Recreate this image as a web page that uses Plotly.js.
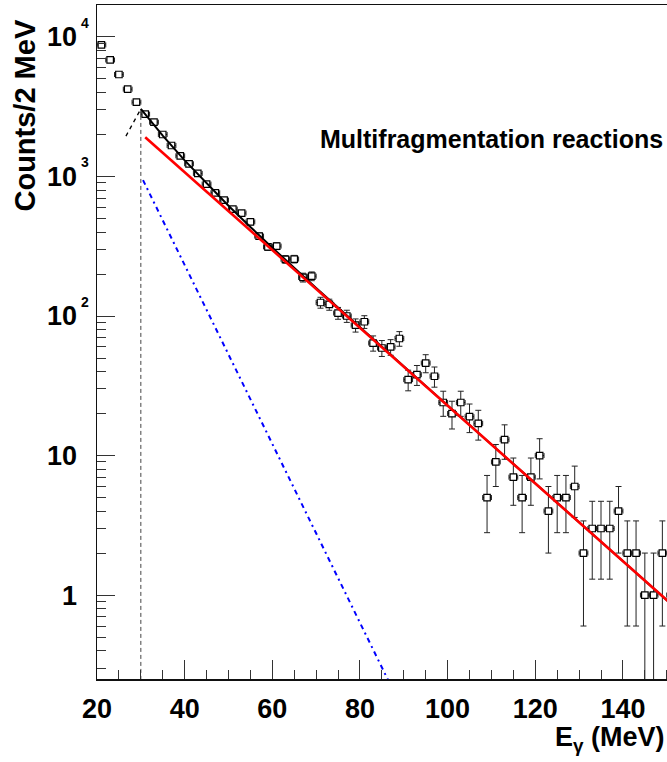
<!DOCTYPE html>
<html>
<head>
<meta charset="utf-8">
<script src="https://cdn.plot.ly/plotly-3.0.1.min.js"></script>
<style>
html, body { margin: 0; padding: 0; overflow: hidden; background: #fff; }
#chart { width: 680px; height: 762px; }
</style>
</head>
<body>
<div id="chart"></div>
<script>
// Photon energy bin centres (MeV), 2 MeV bins
const energy = [21,23,25,27,29,31,33,35,37,39,41,43,45,47,49,51,53,55,57,59,
  61,63,65,67,69,71,73,75,77,79,81,83,85,87,89,91,93,95,97,99,
  101,103,105,107,109,111,113,115,117,119,121,123,125,127,129,131,133,135,137,139,
  141,143,145,147,149,151];
// Counts per 2 MeV
const counts = [8770,6840,5380,4225,3407,2797,2450,2000,1668,1406,1233,1052,882,764,677,584,547,473,374,313,
  317,255,256,189,193,125,121,105,100,86,91,64,59,60,69,35,38,46,37,24,
  20,24,19,17,5,9,13,7,5,7,10,4,5,5,6,2,3,3,3,4,
  2,2,1,1,2,1];
// Statistical errors on counts
const countErr = [93.6,82.7,73.3,65,58.4,52.9,49.5,44.7,40.8,37.5,35.1,32.4,29.7,27.6,26,24.2,23.4,21.7,19.3,17.7,
  17.8,16,16,13.7,13.9,11.2,11,10.2,10,9.3,9.5,8,7.7,7.7,8.3,5.9,6.2,6.8,6.1,4.9,
  4.5,4.9,4.4,4.1,2.2,3,3.6,2.6,2.2,2.6,3.2,2,2.2,2.2,2.4,1.4,1.7,1.7,1.7,2,
  1.4,1.4,1,1,1.4,1];
const binHalfWidth = 1;

// Total fit (black)
const totalFitE = [30, 35, 40, 45, 50, 55, 60, 70, 80, 100, 152];
const totalFitY = [3050, 1963, 1304, 889, 617, 435, 309, 159, 82.9, 22.8, 0.81];
// Total fit extrapolated below the fit range (dashed)
const extrapE = [26.6, 30];
const extrapY = [1945, 3050];
// Hard exponential component (red)
const hardE = [31, 152];
const hardY = [1911, 0.81];
// Soft exponential component (blue)
const softE = [30.5, 90];
const softY = [942, 0.145];
// Lower limit of the fit range
const cutE = [30, 30];
const cutY = [3050, 0.1];

// Axis tick labels
const yTickVals = [1, 10, 100, 1000, 10000];
const yTickText = ['1', '10', '10', '10', '10'];
const yExponents = ['2', '3', '4'];
const yExponentDecades = [2, 3, 4];

const yMinor = [];
for (let d = -1; d <= 3; d++) {
  for (let m = 2; m <= 9; m++) yMinor.push(m * Math.pow(10, d));
}

const FONT = 'Liberation Sans, Arial, Helvetica, sans-serif';

const traces = [
  {
    x: energy, y: counts, type: 'scatter', mode: 'markers',
    marker: { symbol: 'square', size: 6.5, color: '#ffffff', line: { color: '#000', width: 1.2 } },
    error_y: { type: 'data', array: countErr, visible: true, color: '#222', thickness: 1, width: 3 },
    error_x: { type: 'constant', value: binHalfWidth, visible: true, color: '#222', thickness: 1, width: 2.5 },
    hoverinfo: 'x+y'
  },
  {
    x: extrapE, y: extrapY, type: 'scatter', mode: 'lines',
    line: { color: '#000', width: 1.3, dash: '4px,4px' }
  },
  {
    x: cutE, y: cutY, type: 'scatter', mode: 'lines',
    line: { color: '#444', width: 1, dash: '4px,3px' }
  },
  {
    x: totalFitE, y: totalFitY, type: 'scatter', mode: 'lines',
    line: { color: '#000', width: 2 }
  },
  {
    x: hardE, y: hardY, type: 'scatter', mode: 'lines',
    line: { color: '#ff0000', width: 2.6 }
  },
  {
    x: softE, y: softY, type: 'scatter', mode: 'lines',
    line: { color: '#0000ff', width: 2, dash: '5px,4px,2px,4px' }
  }
];

const annotations = [
  {
    text: 'Counts/2 MeV', xref: 'paper', yref: 'paper', x: 0, y: 1 - (115.5 - 5) / 674,
    xshift: -73, xanchor: 'center', yanchor: 'middle', textangle: -90, showarrow: false,
    font: { family: FONT, size: 29, color: '#000', weight: 'bold' }
  },
  {
    text: 'Multifragmentation reactions', xref: 'paper', yref: 'paper',
    x: (318 - 97) / 575, y: 1 - (139 - 5) / 674, xanchor: 'left', yanchor: 'middle', showarrow: false,
    font: { family: FONT, size: 25, color: '#000', weight: 'bold' }
  },
  {
    text: 'E<sub>γ</sub> (MeV)', xref: 'paper', yref: 'paper',
    x: (666 - 97) / 575, y: 0, yshift: -42, xanchor: 'right', yanchor: 'top', showarrow: false,
    borderpad: 0,
    font: { family: FONT, size: 27, color: '#000', weight: 'bold' }
  }
];
for (let i = 0; i < yExponents.length; i++) {
  annotations.push({
    text: yExponents[i], xref: 'paper', yref: 'y', x: 0, y: yExponentDecades[i],
    xshift: -11.7, yshift: 14, xanchor: 'center', yanchor: 'middle', showarrow: false,
    font: { family: FONT, size: 14, color: '#000', weight: 'bold' }
  });
}

const layout = {
  width: 680, height: 762,
  margin: { l: 97, r: 8, t: 5, b: 83 },
  paper_bgcolor: '#fff', plot_bgcolor: '#fff',
  showlegend: false,
  xaxis: {
    range: [20, 151.2], showgrid: false, zeroline: false,
    showline: true, linecolor: '#111', linewidth: 1.5, mirror: true,
    ticks: 'inside', ticklen: 19, tickwidth: 1, tickcolor: '#333',
    tick0: 20, dtick: 20, ticklabelstandoff: 5,
    minor: { dtick: 5, ticks: 'inside', ticklen: 9, tickwidth: 1, tickcolor: '#333', showgrid: false },
    tickfont: { family: FONT, size: 27, color: '#000', weight: 'bold' }
  },
  yaxis: {
    type: 'log', range: [-0.6015, 4.229], showgrid: false, zeroline: false,
    showline: true, linecolor: '#111', linewidth: 1.5, mirror: true,
    ticks: 'inside', ticklen: 18, tickwidth: 1, tickcolor: '#333',
    tickmode: 'array', tickvals: yTickVals, ticktext: yTickText, ticklabelstandoff: 13,
    minor: { tickmode: 'array', tickvals: yMinor, ticks: 'inside', ticklen: 9, tickwidth: 1, tickcolor: '#333', showgrid: false },
    tickfont: { family: FONT, size: 27, color: '#000', weight: 'bold' }
  },
  annotations: annotations
};

Plotly.newPlot('chart', traces, layout, { staticPlot: true, displayModeBar: false });
</script>
</body>
</html>
